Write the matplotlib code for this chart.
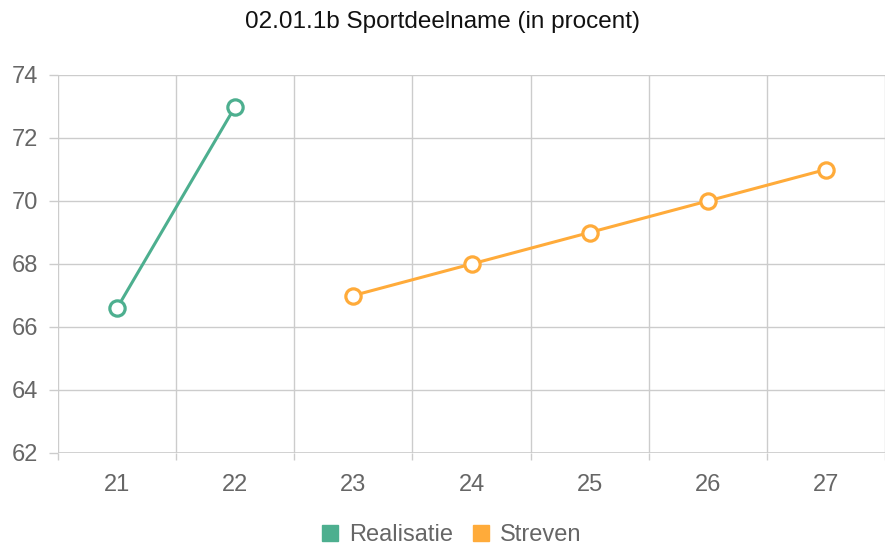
import matplotlib.pyplot as plt

jaren = ['21', '22', '23', '24', '25', '26', '27']
realisatie = [66.6, 73.0, None, None, None, None, None]
streven = [None, None, 67.0, 68.0, 69.0, 70.0, 71.0]

groen = '#4daf8f'
oranje = '#ffab3a'
grid = '#cccccc'
tekst = '#666666'

plt.rcParams['font.family'] = ['Liberation Sans', 'DejaVu Sans']

fig = plt.figure(figsize=(8.85, 5.45), dpi=100)
ax = fig.add_axes([58 / 885, 92 / 545, 827 / 885, 378 / 545])

x = list(range(len(jaren)))
xr = [i for i, v in zip(x, realisatie) if v is not None]
yr = [v for v in realisatie if v is not None]
xs = [i for i, v in zip(x, streven) if v is not None]
ys = [v for v in streven if v is not None]

ax.plot(xr, yr, color=groen, lw=2.2, marker='o', ms=11, mfc='white', mec=groen, mew=2.3,
        label='Realisatie', zorder=3)
ax.plot(xs, ys, color=oranje, lw=2.2, marker='o', ms=11, mfc='white', mec=oranje, mew=2.3,
        label='Streven', zorder=3)

ax.set_xlim(-0.5, len(jaren) - 0.5)
ax.set_ylim(62, 74)
ax.set_yticks(range(62, 75, 2))
ax.set_xticks(x)
ax.set_xticklabels(jaren)
ax.set_xticks([i - 0.5 for i in range(len(jaren) + 1)], minor=True)

ax.grid(True, which='major', axis='y', color=grid, lw=1)
ax.grid(True, which='minor', axis='x', color=grid, lw=1)
ax.set_axisbelow(True)
for s in ax.spines.values():
    s.set_visible(False)
ax.axhline(62, color=grid, lw=1.2, zorder=1)

ax.tick_params(axis='x', which='major', length=0, pad=15, labelsize=17, labelcolor=tekst)
ax.tick_params(axis='x', which='minor', length=5, color=grid, width=1)
ax.tick_params(axis='y', length=6.5, color=grid, width=1, pad=8, labelsize=17, labelcolor=tekst)

fig.suptitle('02.01.1b Sportdeelname (in procent)', y=1 - 22 / 545, va='center',
             fontsize=17.5, color='#111111')

ax.legend(handles=[
    plt.Line2D([], [], ls='', marker='s', ms=11, color=groen, label='Realisatie'),
    plt.Line2D([], [], ls='', marker='s', ms=11, color=oranje, label='Streven')],
    loc='center', bbox_to_anchor=(0.475, -82 / 378),
    ncol=2, frameon=False, fontsize=17, handletextpad=0.4, columnspacing=0.8,
    handlelength=0.8, labelcolor=tekst)

fig.savefig('out.png', dpi=100)
